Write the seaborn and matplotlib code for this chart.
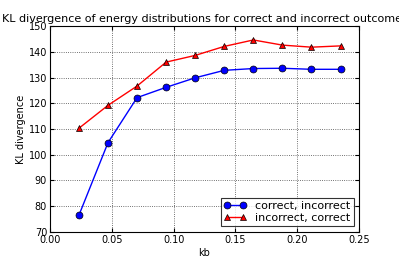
import seaborn as sns
import matplotlib.pyplot as plt
import pandas as pd

kb = [0.0235, 0.047, 0.0705, 0.094, 0.1175, 0.141, 0.1645, 0.188, 0.2115, 0.235]
correct_incorrect = [76.5, 104.7, 122.2, 126.2, 129.9, 132.8, 133.5, 133.6, 133.2, 133.2]
incorrect_correct = [110.3, 119.2, 126.7, 136.0, 138.6, 142.1, 144.6, 142.6, 141.8, 142.3]

sns.set_style("white", {"text.color": "black", "axes.labelcolor": "black",
                        "xtick.color": "black", "ytick.color": "black"})
plt.rcParams['font.family'] = ['DejaVu Sans']

fig = plt.figure(figsize=(3.99, 2.66), dpi=100)
ax = fig.add_axes([0.125, 0.128, 0.775, 0.774])

sns.lineplot(x=kb, y=correct_incorrect, ax=ax, color='blue', marker='o',
             markersize=5, markeredgecolor='black', markeredgewidth=0.5,
             linewidth=1, label='correct, incorrect')
sns.lineplot(x=kb, y=incorrect_correct, ax=ax, color='red', marker='^',
             markersize=5, markeredgecolor='black', markeredgewidth=0.5,
             linewidth=1, label='incorrect, correct')

ax.set_xlim(0, 0.25)
ax.set_ylim(70, 150)
ax.set_xticks([0.0, 0.05, 0.10, 0.15, 0.20, 0.25])
ax.set_xticklabels(['0.00', '0.05', '0.10', '0.15', '0.20', '0.25'])
ax.set_yticks(range(70, 151, 10))
ax.tick_params(labelsize=7, direction='in', length=3, color='black',
               labelcolor='black', top=True, right=True, bottom=True,
               left=True, pad=2)
ax.grid(True, linestyle=':', color='#444444', linewidth=0.6)
for s in ax.spines.values():
    s.set_color('black')
    s.set_linewidth(0.8)

ax.set_xlabel('kb', fontsize=7, labelpad=2, color='black')
ax.set_ylabel('KL divergence', fontsize=7, labelpad=2, color='black')
ax.set_title('KL divergence of energy distributions for correct and incorrect outcomes',
             fontsize=8.0, pad=3, color='black')

leg = ax.legend(loc='lower right', fontsize=8, numpoints=2, frameon=True,
                fancybox=False, borderpad=0.3, handlelength=2, labelspacing=0.2,
                borderaxespad=0.5)
leg.get_frame().set_edgecolor('black')
leg.get_frame().set_linewidth(0.8)
for t in leg.get_texts():
    t.set_color('black')

fig.savefig('out.png', dpi=100)
